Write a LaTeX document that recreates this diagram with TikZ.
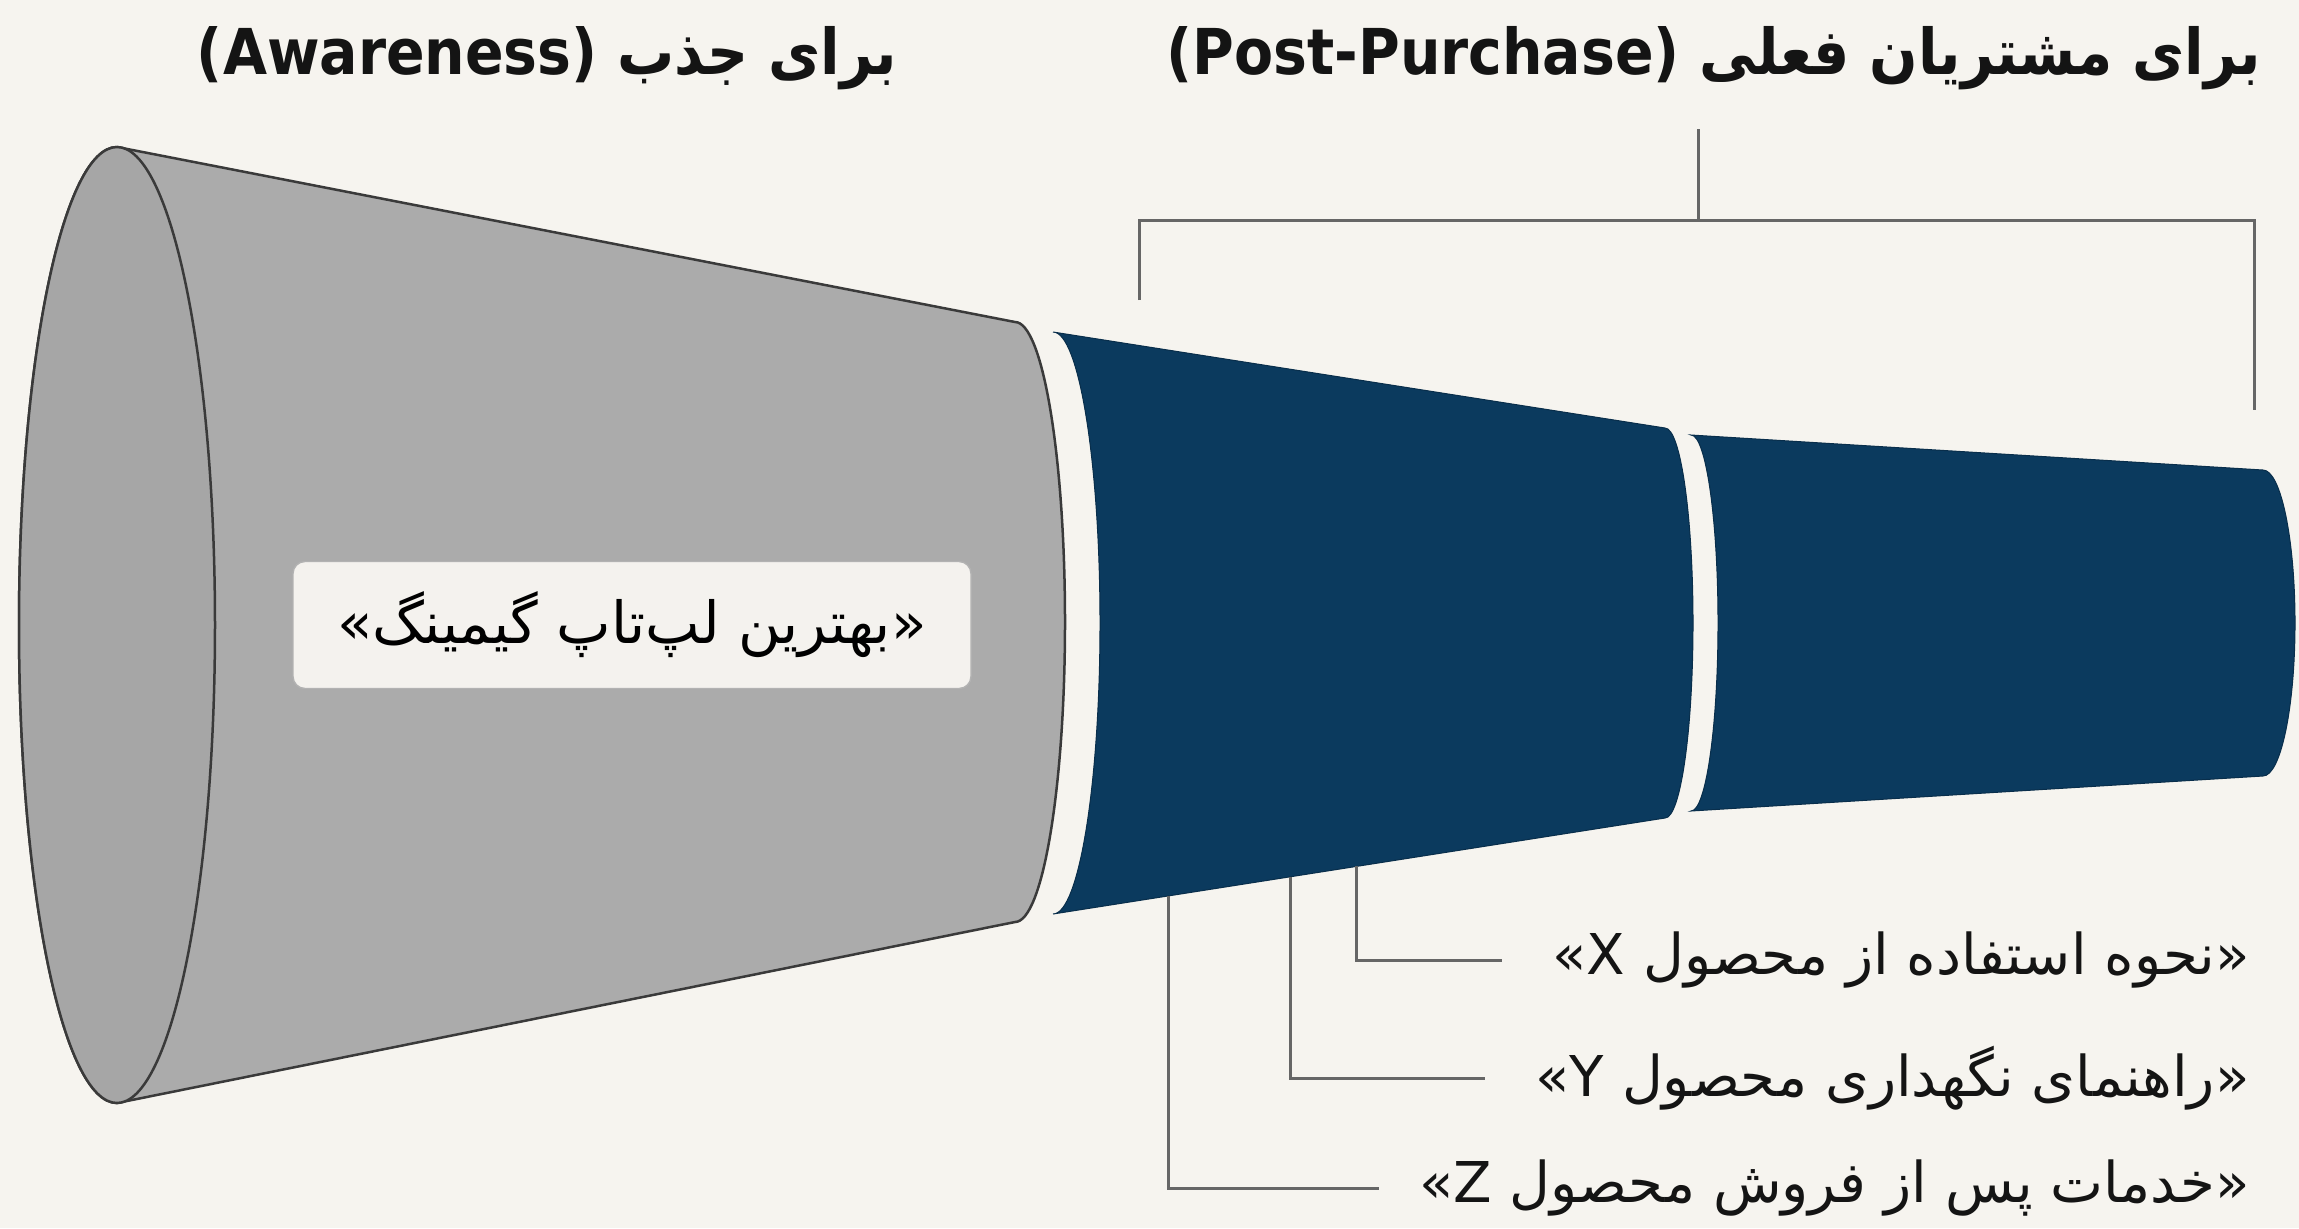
\documentclass[tikz,border=0pt]{standalone}
\usepackage{fontspec}
\usepackage{xcolor}
\usepackage{tikz}

\TeXXeTstate=1
\newfontfamily\farsi[Script=Arabic]{DejaVu Sans}
\newfontfamily\farsibold[Script=Arabic,FakeStretch=0.9]{DejaVu Sans Bold}

\definecolor{paper}{HTML}{F6F4EF}
\definecolor{conegray}{HTML}{ABABAB}
\definecolor{facegray}{HTML}{A6A6A6}
\definecolor{coneline}{HTML}{3A3A3A}
\definecolor{navy}{HTML}{0B3A5E}
\definecolor{rulegray}{HTML}{666666}
\definecolor{boxfill}{HTML}{F4F2EE}

\begin{document}
\begin{tikzpicture}[x=0.1mm, y=-0.1mm,
    headline/.style={font=\farsibold\fontsize{18}{21}\selectfont, text=black!92},
    callout/.style={font=\farsi\fontsize{16}{19}\selectfont, text=black!92, anchor=east, inner sep=0pt},
    quote box/.style={rectangle, rounded corners=1.2mm, draw=black!30, fill=boxfill, minimum width=67.8mm, minimum height=12.7mm, font=\farsi\fontsize{16.5}{19}\selectfont},
    cone/.style={fill=conegray, draw=coneline, line width=0.25mm},
    band/.style={fill=navy, draw=navy!80!black, line width=0.1mm},
    leader/.style={draw=rulegray, line width=0.3mm}]

    \fill[paper] (0,0) rectangle (2299,1228);
    \useasboundingbox (0,0) rectangle (2299,1228);

    % gray cone, open end on the left
    \path[cone] (117,147) -- (1015,322)
        arc[start angle=-90, end angle=90, x radius=50, y radius=300]
        -- (117,1103)
        arc[start angle=90, end angle=270, x radius=98, y radius=478] -- cycle;
    \path[cone, fill=facegray] (117,625) ellipse [x radius=98, y radius=478];

    % two blue bands
    \path[band] (1053,332) -- (1665,428)
        arc[start angle=-90, end angle=90, x radius=28, y radius=195]
        -- (1053,914)
        arc[start angle=90, end angle=-90, x radius=47, y radius=291] -- cycle;
    \path[band] (1691,435) -- (2263,470)
        arc[start angle=-90, end angle=90, x radius=32, y radius=153]
        -- (1691,811)
        arc[start angle=90, end angle=-90, x radius=27, y radius=188] -- cycle;

    \node[quote box] (best) at (632,625) {\beginR «بهترین لپ‌تاپ گیمینگ»\endR};

    % headings
    \node[headline] (aware) at (547,58) {\beginR برای جذب \beginL(Awareness)\endL\endR};
    \node[headline] (post) at (1714,58) {\beginR برای مشتریان فعلی \beginL(Post-Purchase)\endL\endR};

    % bracket over the blue bands
    \coordinate (brace top) at (1698,129);
    \coordinate (brace mid) at (1698,220);
    \coordinate (brace left) at (1139,300);
    \coordinate (brace right) at (2254,410);
    \draw[leader] (brace left) |- (brace mid) -| (brace right);
    \draw[leader] (brace top) -- (brace mid);

    % content callouts
    \node[callout] (useX) at (2250,960) {\beginR «نحوه استفاده از محصول \beginL«X\endL\endR};
    \node[callout] (careY) at (2250,1078) {\beginR «راهنمای نگهداری محصول \beginL«Y\endL\endR};
    \node[callout] (serviceZ) at (2250,1188) {\beginR «خدمات پس از فروش محصول \beginL«Z\endL\endR};

    \coordinate (footX) at (1356,866);
    \coordinate (footY) at (1290,877);
    \coordinate (footZ) at (1168,896);
    \draw[leader] (footX) |- ([xshift=-5mm]useX.west);
    \draw[leader] (footY) |- ([xshift=-5mm]careY.west);
    \draw[leader] (footZ) |- ([xshift=-4mm]serviceZ.west);
\end{tikzpicture}
\end{document}
